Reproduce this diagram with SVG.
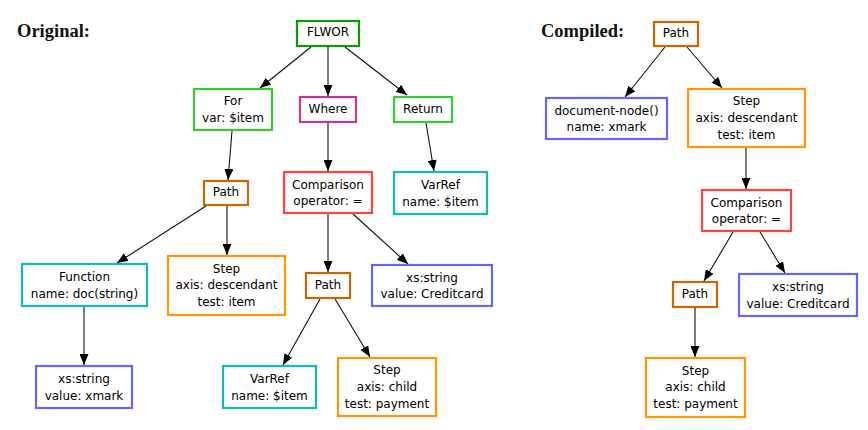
<svg xmlns="http://www.w3.org/2000/svg" width="868" height="430" viewBox="0 0 868 430">
<style>
.title{font-family:"Liberation Serif","Times New Roman",serif;font-weight:bold;font-size:18.5px;fill:#111}
.n rect{fill:#fff;stroke-width:2.2}
.n text{font-family:"DejaVu Sans",Verdana,sans-serif;font-size:12px;fill:#000;text-anchor:middle}
.flwor rect{stroke:#0a9a0a}
.clause rect{stroke:#33cc33}
.where rect{stroke:#cc3399}
.path rect{stroke:#cc6600}
.cmp rect{stroke:#ff4444}
.cyan rect{stroke:#11bbbb}
.step rect{stroke:#ff9900}
.str rect{stroke:#6666ff}
.edges line{stroke:#111;stroke-width:1.1;marker-end:url(#arr)}
</style>
<defs>
<marker id="arr" markerUnits="userSpaceOnUse" markerWidth="12" markerHeight="9" refX="11" refY="4.5" orient="auto">
<path d="M0,0 L11,4.5 L0,9 z" fill="#000"/>
</marker>
</defs>
<rect width="868" height="430" fill="#fff"/>
<text class="title" x="17" y="37">Original:</text>
<text class="title" x="541" y="37">Compiled:</text>

<g class="edges">
<line x1="311" y1="47" x2="260" y2="88"/>
<line x1="328" y1="47" x2="328" y2="96"/>
<line x1="345" y1="47" x2="407" y2="95"/>
<line x1="232" y1="131" x2="228" y2="180"/>
<line x1="328" y1="123" x2="328" y2="171"/>
<line x1="426" y1="123" x2="434" y2="171"/>
<line x1="206" y1="206" x2="117" y2="263"/>
<line x1="227" y1="206" x2="227" y2="255"/>
<line x1="328" y1="214" x2="328" y2="272"/>
<line x1="353" y1="214" x2="408" y2="264"/>
<line x1="84" y1="307" x2="84" y2="365"/>
<line x1="320" y1="299" x2="283" y2="365"/>
<line x1="335" y1="299" x2="370" y2="357"/>
<line x1="665" y1="47" x2="625" y2="97"/>
<line x1="687" y1="47" x2="722" y2="88"/>
<line x1="746" y1="148" x2="746" y2="189"/>
<line x1="733" y1="232" x2="704" y2="281"/>
<line x1="760" y1="232" x2="785" y2="273"/>
<line x1="695" y1="308" x2="695" y2="357"/>
</g>

<g id="flwor" class="n flwor"><rect x="297" y="21" width="62" height="25"/><text x="328" y="36">FLWOR</text></g>
<g id="for" class="n clause"><rect x="194" y="89" width="78" height="41"/><text x="233" y="105">For</text><text x="233" y="122">var: $item</text></g>
<g id="where" class="n where"><rect x="300" y="97" width="56" height="25"/><text x="328" y="113">Where</text></g>
<g id="return" class="n clause"><rect x="394" y="97" width="58" height="25"/><text x="423" y="113">Return</text></g>
<g id="path1" class="n path"><rect x="204" y="181" width="44" height="24"/><text x="226" y="196">Path</text></g>
<g id="cmp1" class="n cmp"><rect x="284" y="172" width="88" height="41"/><text x="328" y="188.5">Comparison</text><text x="328" y="205.3">operator: =</text></g>
<g id="varref1" class="n cyan"><rect x="394" y="172" width="93" height="42"/><text x="440.5" y="189">VarRef</text><text x="440.5" y="205.7">name: $item</text></g>
<g id="function" class="n cyan"><rect x="22" y="264" width="125" height="42"/><text x="84.5" y="281">Function</text><text x="84.5" y="297.7">name: doc(string)</text></g>
<g id="step1" class="n step"><rect x="168" y="256" width="117" height="59"/><text x="226.5" y="272.6">Step</text><text x="226.5" y="289.3">axis: descendant</text><text x="226.5" y="306">test: item</text></g>
<g id="path2" class="n path"><rect x="306" y="273" width="44" height="25"/><text x="328" y="289">Path</text></g>
<g id="str1" class="n str"><rect x="372" y="265" width="120" height="41"/><text x="432" y="281.5">xs:string</text><text x="432" y="298.2">value: Creditcard</text></g>
<g id="str2" class="n str"><rect x="36" y="366" width="96" height="42"/><text x="84" y="383">xs:string</text><text x="84" y="399.7">value: xmark</text></g>
<g id="varref2" class="n cyan"><rect x="223" y="366" width="93" height="42"/><text x="269.5" y="383">VarRef</text><text x="269.5" y="399.7">name: $item</text></g>
<g id="step2" class="n step"><rect x="338" y="358" width="98" height="58"/><text x="387" y="374.3">Step</text><text x="387" y="391">axis: child</text><text x="387" y="407.7">test: payment</text></g>

<g id="cpath1" class="n path"><rect x="654" y="22" width="44" height="24"/><text x="676" y="37">Path</text></g>
<g id="cdoc" class="n str"><rect x="546" y="98" width="121" height="41"/><text x="606.5" y="114.5">document-node()</text><text x="606.5" y="131.2">name: xmark</text></g>
<g id="cstep1" class="n step"><rect x="688" y="89" width="117" height="58"/><text x="746.5" y="105.3">Step</text><text x="746.5" y="122">axis: descendant</text><text x="746.5" y="138.7">test: item</text></g>
<g id="ccmp" class="n cmp"><rect x="702" y="190" width="89" height="41"/><text x="746.5" y="206.5">Comparison</text><text x="746.5" y="223.2">operator: =</text></g>
<g id="cpath2" class="n path"><rect x="673" y="282" width="44" height="25"/><text x="695" y="298">Path</text></g>
<g id="cstr" class="n str"><rect x="739" y="274" width="118" height="42"/><text x="798" y="291">xs:string</text><text x="798" y="307.7">value: Creditcard</text></g>
<g id="cstep2" class="n step"><rect x="646" y="358" width="99" height="59"/><text x="695.5" y="374.6">Step</text><text x="695.5" y="391.3">axis: child</text><text x="695.5" y="408">test: payment</text></g>
</svg>
